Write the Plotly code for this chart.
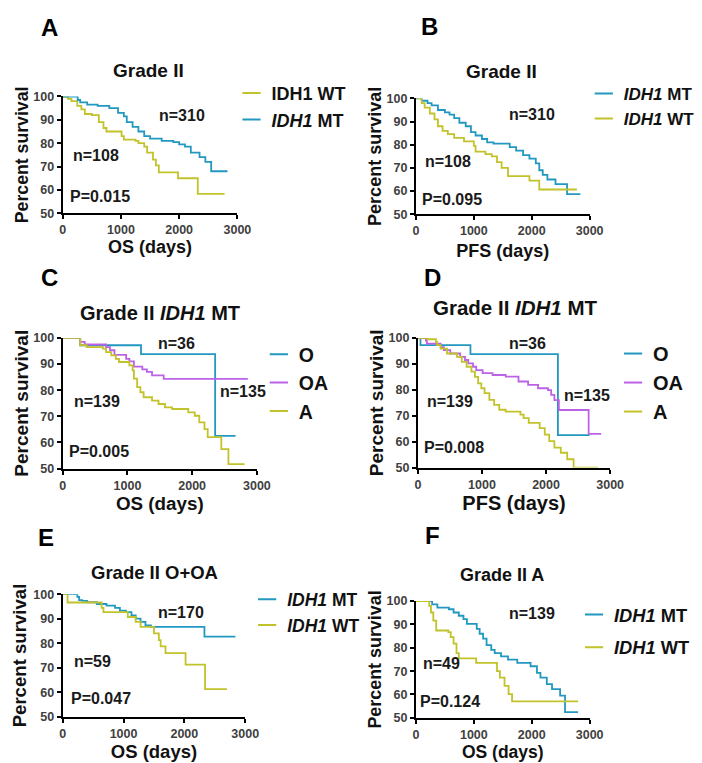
import plotly.graph_objects as go

W, H = 702, 763
BLUE = "#2298C0"
YELLOW = "#C2C22A"
PURPLE = "#BC62E6"
FONT = "Liberation Sans, Arial, sans-serif"

# ---------------- data (days, percent survival) ----------------
A_mt_t = [0, 257, 300, 420, 600, 800, 950, 1050, 1100, 1200, 1300, 1400, 1500, 1700, 1900, 2000, 2100, 2200, 2350, 2450, 2550, 2830]
A_mt_s = [100, 98.5, 97.5, 96.5, 96, 95, 93, 91.5, 89, 87, 85, 83, 82, 81, 80.5, 79.5, 78.5, 76, 74, 72, 68, 68]
A_wt_t = [0, 90, 150, 250, 320, 380, 500, 620, 700, 750, 1011, 1050, 1250, 1300, 1400, 1450, 1550, 1600, 1650, 1980, 2320, 2780]
A_wt_s = [100, 99, 98, 96, 94.5, 92.5, 92, 89, 86.5, 85, 83, 81.5, 81, 80, 78.5, 76, 73, 70.5, 67.5, 65, 58.3, 58.3]

B_mt_t = [0, 100, 200, 270, 380, 500, 580, 660, 750, 860, 950, 1030, 1140, 1230, 1340, 1620, 1730, 1850, 1960, 2070, 2130, 2190, 2270, 2410, 2610, 2840]
B_mt_s = [100, 99, 98, 97, 95, 94, 93, 91.5, 89.5, 88, 85.5, 84, 82.5, 81, 80.5, 79, 77.5, 75.5, 74, 72, 69, 67, 65, 63, 58.7, 58.7]
B_wt_t = [0, 100, 150, 240, 320, 380, 460, 550, 660, 830, 1000, 1030, 1200, 1310, 1400, 1480, 1590, 1960, 2130, 2780]
B_wt_s = [100, 98, 96, 93.5, 91, 88, 86, 84.6, 83, 81.5, 79.5, 77, 76, 75, 72.5, 70, 66.5, 64.5, 60.7, 60.7]

C_o_t = [0, 270, 1210, 2355, 2670]
C_o_s = [100, 97.2, 93.8, 62.5, 62.5]
C_oa_t = [0, 270, 340, 670, 730, 800, 980, 1030, 1100, 1230, 1300, 1380, 1560, 2860]
C_oa_s = [100, 98.5, 97.5, 96.5, 95.3, 93.5, 92, 91, 89, 88, 87, 85.7, 84.3, 84.3]
C_a_t = [0, 270, 370, 620, 670, 750, 820, 870, 1030, 1080, 1100, 1150, 1200, 1250, 1380, 1480, 1580, 1690, 1940, 2040, 2110, 2190, 2240, 2450, 2560, 2810]
C_a_s = [100, 97.2, 96.5, 95.9, 94.6, 93.3, 92, 90.8, 89.5, 87.6, 84.4, 81.2, 79.2, 77.3, 76, 74.7, 73.4, 72.8, 71.5, 70.2, 67.7, 65.1, 62, 57.4, 51.7, 51.7]

D_o_t = [0, 40, 820, 2185, 2680]
D_o_s = [100, 97.2, 93.8, 62.5, 62.5]
D_oa_t = [0, 125, 140, 355, 405, 505, 660, 735, 785, 860, 910, 1010, 1165, 1370, 1570, 1720, 1875, 2030, 2080, 2130, 2200, 2665, 2860]
D_oa_s = [100, 99, 97.8, 96.5, 95.3, 94, 92.7, 91.5, 90.2, 88.9, 87.6, 86.4, 85.7, 85.1, 83.2, 81.9, 80.6, 79.9, 78, 76, 72.2, 63, 63]
D_a_t = [0, 150, 280, 300, 355, 455, 610, 685, 760, 835, 890, 940, 990, 1040, 1115, 1190, 1270, 1370, 1600, 1650, 1730, 1900, 1980, 2050, 2130, 2230, 2330, 2430, 2810]
D_a_s = [100, 99.5, 98.5, 97.2, 95.9, 94, 92.7, 90.8, 88.9, 87, 85, 82.5, 80.6, 78.7, 76.1, 74.2, 72.3, 71.6, 70.4, 69.1, 67.2, 65.2, 62.7, 60.2, 57.7, 55.7, 53.2, 50, 50]

E_mt_t = [0, 240, 270, 320, 400, 560, 720, 860, 940, 1040, 1130, 1200, 1280, 1360, 1450, 2330, 2840]
E_mt_s = [100, 98.9, 97.6, 97.3, 96.7, 96, 95.3, 94.4, 93.3, 92.7, 91.3, 90, 88.7, 87.3, 86.7, 82.7, 82.7]
E_wt_t = [0, 80, 640, 670, 1070, 1200, 1280, 1500, 1580, 1610, 1690, 2020, 2340, 2700]
E_wt_s = [100, 96.6, 94.4, 92.7, 90.7, 88.7, 86.7, 84, 81.3, 78.7, 76, 71.3, 61.3, 61.3]

F_mt_t = [0, 280, 370, 570, 650, 740, 820, 880, 1050, 1100, 1160, 1220, 1300, 1360, 1470, 1590, 1750, 1980, 2090, 2150, 2260, 2350, 2490, 2575, 2800]
F_mt_s = [100, 98.6, 97.2, 96.5, 95.1, 93.7, 92.3, 90.2, 88.1, 86, 83.9, 81.1, 79.1, 77.7, 76.3, 74.9, 73.5, 72.1, 69.3, 67.2, 64.4, 62.3, 59.5, 52.5, 52.5]
F_wt_t = [0, 230, 260, 300, 350, 560, 600, 650, 700, 740, 1040, 1400, 1450, 1530, 1600, 1660, 2800]
F_wt_s = [100, 97.9, 95.1, 91.6, 87.4, 86.7, 84.6, 81.8, 77.7, 75.5, 73.5, 70, 67.2, 63.7, 60.2, 57.1, 57.1]

x_ticks = [0, 1000, 2000, 3000]
y_ticks = [50, 60, 70, 80, 90, 100]

# ---------------- panel layout (pixel boxes) ----------------
panels = [
    dict(letter="A", title="Grade II", xtitle="OS (days)", xd=(53, 232), yd=(83, 202),
         series=[(A_wt_t, A_wt_s, YELLOW, "IDH1 WT"), (A_mt_t, A_mt_s, BLUE, "<i>IDH1</i> MT")],
         leg=(226, 61), leg_font=18, leg_gap=0,
         notes=[("n=310", 1615, 92), ("n=108", 140, 74.7), ("P=0.015", 84, 57.2)],
         let_pos=(39, 13), tit_pos=(141, 57), tit_size=19, ysz=17.7, xsz=18, xstand=0, ystand=0),
    dict(letter="B", title="Grade II", xtitle="PFS (days)", xd=(415, 593), yd=(85, 203),
         series=[(B_mt_t, B_mt_s, BLUE, "<i>IDH1</i> MT"), (B_wt_t, B_wt_s, YELLOW, "<i>IDH1</i> WT")],
         leg=(587, 62), leg_font=17, leg_gap=0,
         notes=[("n=310", 1581, 93), ("n=108", 129, 72.8), ("P=0.095", 73, 56.3)],
         let_pos=(429, 12), tit_pos=(503, 58), tit_size=19, ysz=18, xsz=18, xstand=7, ystand=0),
    dict(letter="C", title="Grade II <i>IDH1</i> MT", xtitle="OS (days)", xd=(53, 252), yd=(329, 462),
         series=[(C_o_t, C_o_s, BLUE, "O"), (C_oa_t, C_oa_s, PURPLE, "OA"), (C_a_t, C_a_s, YELLOW, "A")],
         leg=(254, 326), leg_font=19.5, leg_gap=0,
         notes=[("n=36", 1447, 97.9), ("n=135", 2400, 79.6), ("n=139", 151, 75.8), ("P=0.005", 66, 56.5)],
         let_pos=(39, 267), tit_pos=(153, 304), tit_size=20, ysz=19, xsz=18.8, xstand=3, ystand=0),
    dict(letter="D", title="Grade II <i>IDH1</i> MT", xtitle="PFS (days)", xd=(417, 614), yd=(329, 461),
         series=[(D_o_t, D_o_s, BLUE, "O"), (D_oa_t, D_oa_s, PURPLE, "OA"), (D_a_t, D_a_s, YELLOW, "A")],
         leg=(617, 325), leg_font=20, leg_gap=0,
         notes=[("n=36", 1396, 97.9), ("n=135", 2251, 77.8), ("n=139", 116, 75.3), ("P=0.008", 66, 57.6)],
         let_pos=(432, 267), tit_pos=(517, 298), tit_size=20.5, ysz=19, xsz=20, xstand=1, ystand=0),
    dict(letter="E", title="Grade II O+OA", xtitle="OS (days)", xd=(53, 240), yd=(590, 715),
         series=[(E_mt_t, E_mt_s, BLUE, "<i>IDH1</i> MT"), (E_wt_t, E_wt_s, YELLOW, "<i>IDH1</i> WT")],
         leg=(242, 577), leg_font=17.5, leg_gap=0,
         notes=[("n=170", 1537, 92.4), ("n=59", 150, 72.4), ("P=0.047", 96, 57.3)],
         let_pos=(36, 532), tit_pos=(147, 568), tit_size=18.5, ysz=18.6, xsz=18.5, xstand=3, ystand=2),
    dict(letter="F", title="Grade II A", xtitle="OS (days)", xd=(415, 593), yd=(597, 716),
         series=[(F_mt_t, F_mt_s, BLUE, "<i>IDH1</i> MT"), (F_wt_t, F_wt_s, YELLOW, "<i>IDH1</i> WT")],
         leg=(577, 592), leg_font=18.3, leg_gap=6,
         notes=[("n=139", 1570, 94.8), ("n=49", 95, 73.1), ("P=0.124", 39, 57)],
         let_pos=(432, 530), tit_pos=(503, 570), tit_size=18, ysz=17.9, xsz=17.5, xstand=2, ystand=0),
]

fig = go.Figure()
annotations = []
layout = dict(
    width=W, height=H, margin=dict(l=0, r=0, t=0, b=0),
    paper_bgcolor="white", plot_bgcolor="white", showlegend=True,
    font=dict(family=FONT, color="#111111"),
)

for i, p in enumerate(panels, start=1):
    sfx = "" if i == 1 else str(i)
    xa, ya = "x" + sfx, "y" + sfx
    leg_name = "legend" + sfx
    for t, s, c, name in p["series"]:
        fig.add_trace(go.Scatter(
            x=t, y=s, mode="lines", line=dict(shape="hv", color=c, width=1.8),
            xaxis=xa, yaxis=ya, showlegend=False, hoverinfo="skip"))
    for j, (t, s, c, name) in enumerate(p["series"]):
        fig.add_trace(go.Scatter(
            x=[None], y=[None], mode="markers", name=name,
            marker=dict(symbol="line-ew", size=13, color=c, line=dict(color=c, width=2)),
            xaxis=xa, yaxis=ya, legend=leg_name, legendgroup=f"{p['letter']}{j}"))
    x0, x1 = p["xd"]
    ytop, ybot = p["yd"]
    common = dict(showline=True, linecolor="black", linewidth=2, ticks="outside", ticklen=4,
                  tickwidth=2, tickcolor="black", showgrid=False, zeroline=False, fixedrange=True,
                  tickfont=dict(family=FONT, size=12.5, color="#404040", weight="bold"))
    layout["xaxis" + sfx] = dict(
        common, domain=[x0 / W, x1 / W], range=[0, 3000], tickvals=x_ticks, anchor=ya,
        title=dict(text=p["xtitle"], standoff=p["xstand"],
                   font=dict(family=FONT, size=p["xsz"], color="#111111", weight="bold")))
    layout["yaxis" + sfx] = dict(
        common, domain=[1 - ybot / H, 1 - ytop / H], range=[50, 100], tickvals=y_ticks, anchor=xa,
        title=dict(text="Percent survival", standoff=p["ystand"],
                   font=dict(family=FONT, size=p["ysz"], color="#111111", weight="bold")))
    layout[leg_name] = dict(
        x=p["leg"][0] / W, y=1 - p["leg"][1] / H, xanchor="left", yanchor="top",
        bgcolor="rgba(0,0,0,0)", borderwidth=0, tracegroupgap=p["leg_gap"],
        font=dict(family=FONT, size=p["leg_font"], color="#111111", weight="bold"),
        itemclick=False, itemdoubleclick=False)
    annotations.append(dict(text=f"<b>{p['letter']}</b>", x=p["let_pos"][0] / W, y=1 - p["let_pos"][1] / H,
                            xref="paper", yref="paper", showarrow=False, xanchor="center", yanchor="middle",
                            font=dict(family=FONT, size=24, color="#000000")))
    annotations.append(dict(text=f"<b>{p['title']}</b>", x=p["tit_pos"][0] / W, y=1 - p["tit_pos"][1] / H,
                            xref="paper", yref="paper", showarrow=False, xanchor="center", yanchor="middle",
                            font=dict(family=FONT, size=p["tit_size"], color="#111111")))
    for txt, nx, ny in p["notes"]:
        annotations.append(dict(text=f"<b>{txt}</b>", x=nx, y=ny, xref=xa, yref=ya, showarrow=False,
                                xanchor="left", yanchor="middle",
                                font=dict(family=FONT, size=16, color="#1a1a1a")))

layout["annotations"] = annotations
fig.update_layout(**layout)
fig.write_html("out.html")
